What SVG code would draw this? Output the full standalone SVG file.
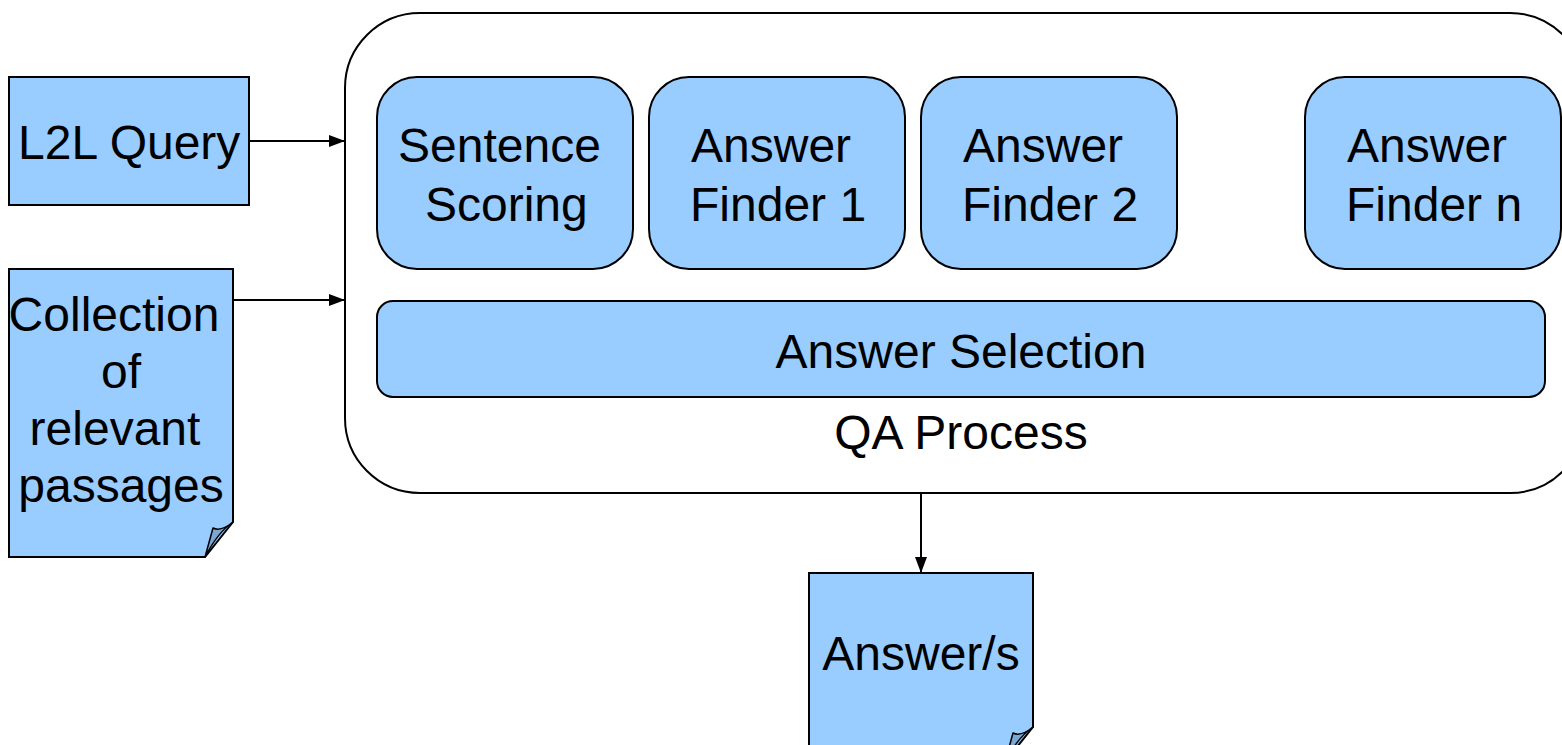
<svg xmlns="http://www.w3.org/2000/svg" width="1562" height="745" viewBox="0 0 1562 745">
<defs>
<style>
.box{fill:#99CCFF;stroke:#000;stroke-width:2}
.fold{fill:#7BA7D3;stroke:#000;stroke-width:1.5;stroke-linejoin:round}
.t{font-family:"Liberation Sans",Arial,sans-serif;font-size:48px;fill:#000}
.c{text-anchor:middle}
.edge{stroke:#000;stroke-width:2;fill:none}
</style>
<marker id="arr" markerWidth="16" markerHeight="12" refX="16" refY="6" orient="auto" markerUnits="userSpaceOnUse">
<path d="M0,0 L16,6 L0,12 Z" fill="#000"/>
</marker>
</defs>
<rect width="1562" height="745" fill="#fff"/>
<g id="qa-process">
<rect x="345" y="13" width="1240" height="480" rx="75" ry="75" fill="#fff" stroke="#000" stroke-width="2"/>
<text class="t c" x="961" y="449">QA Process</text>
</g>
<g id="l2l-query">
<rect class="box" x="9" y="77" width="240" height="128"/>
<text class="t" x="18" y="159">L2L Query</text>
</g>
<g id="collection">
<path class="box" d="M9,269 L233,269 L233,522 L205,557 L9,557 Z"/>
<path class="fold" d="M205,557 L213,528 Q221,532 233,522 Q218,532 205,557 Z"/>
<text class="t c" x="114" y="331">Collection</text>
<text class="t c" x="121" y="388">of</text>
<text class="t c" x="115" y="445">relevant</text>
<text class="t c" x="121" y="502">passages</text>
</g>
<g id="sentence-scoring">
<rect class="box" x="377" y="77" width="256" height="192" rx="40" ry="40"/>
<text class="t" x="398" y="162">Sentence</text>
<text class="t" x="425" y="221">Scoring</text>
</g>
<g id="answer-finder-1">
<rect class="box" x="649" y="77" width="256" height="192" rx="40" ry="40"/>
<text class="t" x="691" y="162">Answer</text>
<text class="t" x="690" y="221">Finder 1</text>
</g>
<g id="answer-finder-2">
<rect class="box" x="921" y="77" width="256" height="192" rx="40" ry="40"/>
<text class="t" x="963" y="162">Answer</text>
<text class="t" x="962" y="221">Finder 2</text>
</g>
<g id="answer-finder-n">
<rect class="box" x="1305" y="77" width="256" height="192" rx="40" ry="40"/>
<text class="t" x="1347" y="162">Answer</text>
<text class="t" x="1346" y="221">Finder n</text>
</g>
<g id="answer-selection">
<rect class="box" x="377" y="301" width="1168" height="96" rx="16" ry="16"/>
<text class="t c" x="961" y="368">Answer Selection</text>
</g>
<g id="answers">
<path class="box" d="M809,573 L1033,573 L1033,727 L1005,762 L809,762 Z"/>
<path class="fold" d="M1005,762 L1013,733 Q1021,737 1033,727 Q1018,737 1005,762 Z"/>
<text class="t c" x="921" y="670">Answer/s</text>
</g>
<g id="connectors">
<line class="edge" x1="249" y1="141" x2="345" y2="141" marker-end="url(#arr)"/>
<line class="edge" x1="233" y1="300" x2="345" y2="300" marker-end="url(#arr)"/>
<line class="edge" x1="921" y1="493" x2="921" y2="573" marker-end="url(#arr)"/>
</g>
</svg>
